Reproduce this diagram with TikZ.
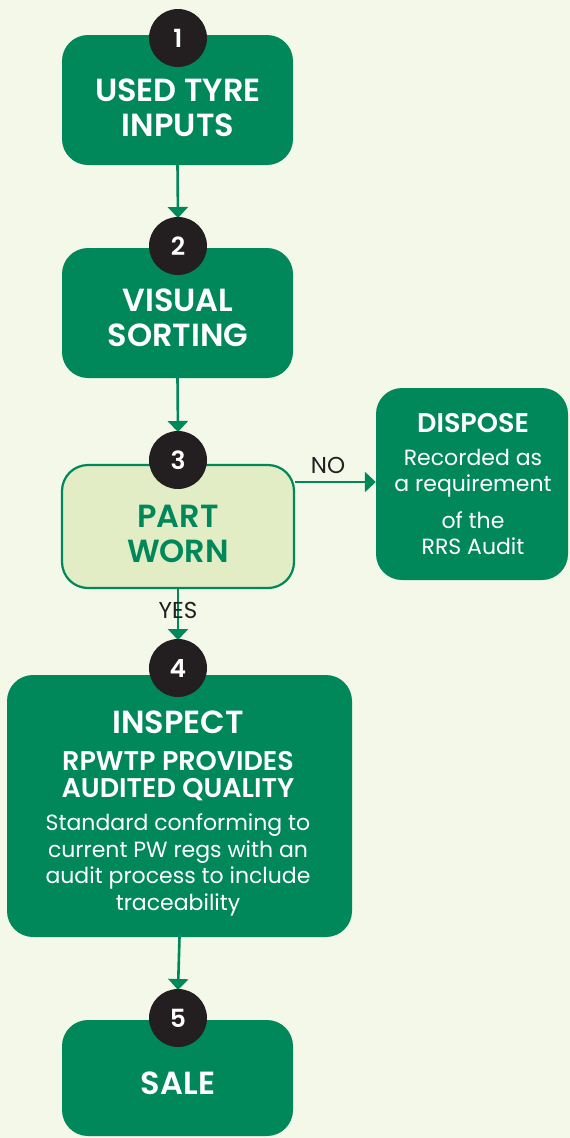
\documentclass[tikz,border=0pt]{standalone}
\usepackage{fontspec}
\setmainfont{Poppins}
\newfontfamily\headfont{Poppins SemiBold}
\usetikzlibrary{arrows.meta}
\definecolor{bgcream}{HTML}{F3F8E8}
\definecolor{stepgreen}{HTML}{00875A}
\definecolor{palegreen}{HTML}{E3EDC5}
\definecolor{badge}{HTML}{231F20}
\definecolor{labelgrey}{HTML}{231F20}
\tikzset{
  stepbox/.style={draw=none, fill=stepgreen, rounded corners=26pt, inner sep=0pt},
  decisionbox/.style={draw=stepgreen, line width=2.2pt, fill=palegreen, rounded corners=26pt, inner sep=0pt},
  badgecircle/.style={circle, fill=badge, minimum size=58pt, inner sep=0pt, text=white, font=\fontsize{25}{25}\selectfont\headfont},
  titletext/.style={text=white, align=center, font=\fontsize{32}{35}\selectfont\headfont, inner sep=0pt},
  subtitle/.style={text=white, align=center, font=\fontsize{27}{27}\selectfont\headfont, inner sep=0pt},
  bodytext/.style={text=white, align=center, font=\fontsize{22}{26.5}\selectfont, inner sep=0pt},
  flow/.style={draw=stepgreen, line width=2.6pt, -{Triangle[width=20pt,length=11pt]}},
  answer/.style={text=labelgrey, font=\fontsize{23}{23}\selectfont, inner sep=0pt}
}
\begin{document}
\begin{tikzpicture}[x=1pt,y=-1pt]
  \fill[bgcream] (0,0) rectangle (570,1138);
  \useasboundingbox (0,0) rectangle (570,1138);

  % step boxes
  \node[stepbox, minimum width=231pt, minimum height=130pt] (b1) at (177.5,100) {};
  \node[stepbox, minimum width=231pt, minimum height=130pt] (b2) at (177.5,313) {};
  \node[decisionbox, minimum width=232pt, minimum height=123pt] (b3) at (178,526.5) {};
  \node[stepbox, minimum width=192pt, minimum height=192pt] (bd) at (472,484) {};
  \node[stepbox, minimum width=345pt, minimum height=262pt] (b4) at (179.5,806) {};
  \node[stepbox, minimum width=231pt, minimum height=116pt] (b5) at (177.5,1078) {};

  % connectors
  \draw[flow] (b1.south) -- (178,218) coordinate (e2);
  \draw[flow] (b2.south) -- (178,432) coordinate (e3);
  \draw[flow] (b3.south) -- (178,640) coordinate (e4);
  \draw[flow] (b4.south) -- (178,990) coordinate (e5);
  \draw[flow] (b3.east |- 0,482) -- (bd.west |- 0,482);

  % numbered badges
  \node[badgecircle] (c1) at (178,38) {1};
  \node[badgecircle] (c2) at (178,246) {2};
  \node[badgecircle] (c3) at (178,460) {3};
  \node[badgecircle] (c4) at (178,668) {4};
  \node[badgecircle] (c5) at (178,1018) {5};

  % box texts
  \node[titletext] (t1) at (178,108) {USED TYRE\\INPUTS};
  \node[titletext] (t2) at (178,318) {VISUAL\\SORTING};
  \node[titletext, text=stepgreen] (t3) at (178,534) {PART\\WORN};
  \node[subtitle] (td) at (473,423) {DISPOSE};
  \node[bodytext] (td2) at (473,473) {Recorded as\\a requirement};
  \node[bodytext] (td3) at (473,533) {of the\\RRS Audit};
  \node[titletext] (t4) at (178,722) {INSPECT};
  \node[subtitle] (t4b) at (178,776) {RPWTP PROVIDES\\AUDITED QUALITY};
  \node[bodytext] (t4c) at (178,865) {Standard conforming to\\current PW regs with an\\audit process to include\\traceability};
  \node[titletext] (t5) at (178,1083) {SALE};

  % branch labels
  \node[answer] (no) at (328,465) {NO};
  \node[answer] (yes) at (178,610) {YES};
\end{tikzpicture}
\end{document}
